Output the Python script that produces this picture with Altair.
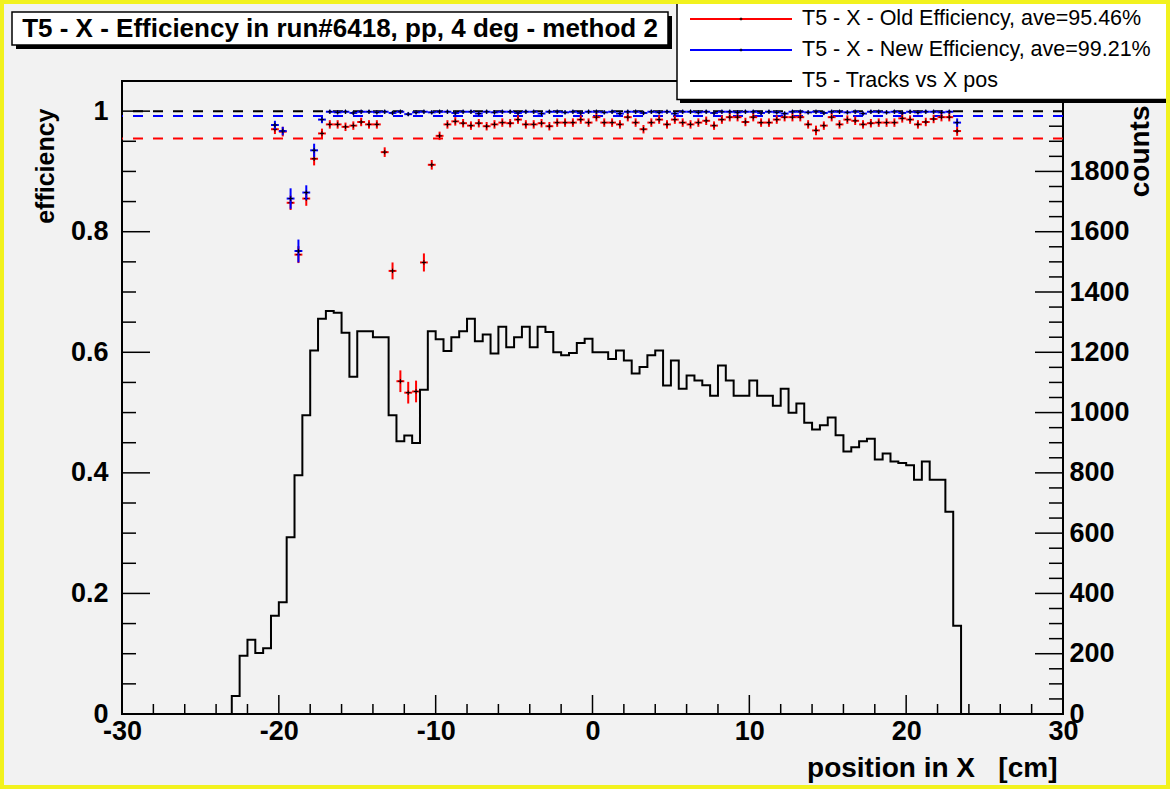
import altair as alt
import pandas as pd

# ---- canvas / frame geometry (pixels) ----
CANVAS_W, CANVAS_H = 1170, 789
PAD_L, PAD_T = 122, 81
W, H = 941, 633

BOLD_FONT = "Liberation Sans"
PLAIN_FONT = "Liberation Sans"
BG = "#f2f2f2"

# ---- texts ----
TITLE = "T5 - X - Efficiency in run#6418, pp, 4 deg - method 2"
LEGEND_LABELS = [
    "T5 - X - Old Efficiency, ave=95.46%",
    "T5 - X - New Efficiency, ave=99.21%",
    "T5 - Tracks vs X pos",
]
LEGEND_COLORS = ["#ff0000", "#0000ff", "#000000"]
X_TITLE = "position in X\u00a0\u00a0\u00a0[cm]"
Y_TITLE = "efficiency"
Y2_TITLE = "counts"

# ---- averages (dashed reference lines) ----
ave_values = [1.0, 0.9921, 0.9546]
ave_colors = ["#000000", "#0000ff", "#ff0000"]

# ---- tracks histogram: 0.5 cm bins, first filled bin starts at -23.0 ----
BIN_WIDTH = 0.5
X_MIN, X_MAX = -30.0, 30.0
HIST_FIRST_EDGE = -23.0
hist_counts = [
    60, 193, 246, 202, 218, 326, 371, 586, 792, 991,
    1206, 1311, 1337, 1331, 1265, 1119, 1270, 1270, 1250, 1250,
    991, 905, 924, 899, 1076, 1270, 1243, 1204, 1250, 1270,
    1311, 1237, 1259, 1196, 1285, 1217, 1250, 1285, 1217, 1285,
    1267, 1200, 1190, 1198, 1231, 1245,
    1200, 1200, 1178, 1206, 1173, 1130, 1151, 1190, 1206, 1090,
    1173, 1079, 1123, 1106, 1091, 1056, 1156, 1106, 1056, 1056,
    1106, 1056, 1056, 1023, 1079, 999, 1030, 966, 944, 958,
    984, 925, 871, 885, 905, 913, 844, 864, 838, 833,
    825, 777, 838, 777, 777, 671, 293,
]

# ---- efficiencies per bin, first bin centre at -20.25 ----
EFF_FIRST_CENTER = -20.25
old_eff = [
    0.970, 0.966, 0.848, 0.762, 0.855, 0.921, 0.963,
    0.978, 0.978, 0.974, 0.976, 0.982, 0.978, 0.978, 0.932, 0.735, 0.552,
    0.533, 0.535, 0.749, 0.911, 0.959,
    0.978, 0.983, 0.980, 0.976, 0.980, 0.975, 0.978, 0.981, 0.980, 0.986,
    0.978, 0.978, 0.980, 0.975, 0.981, 0.981, 0.981, 0.986, 0.981,
    0.990, 0.981, 0.981, 0.978, 0.990, 0.981, 0.970, 0.981, 0.986, 0.978,
    0.986, 0.981, 0.978, 0.981, 0.984, 0.976, 0.986, 0.990, 0.990, 0.982,
    0.990, 0.981, 0.981, 0.986, 0.990, 0.990, 0.990, 0.978, 0.968, 0.976,
    0.990, 0.978, 0.986, 0.984, 0.978, 0.980, 0.981, 0.981, 0.981, 0.988,
    0.986, 0.978, 0.982, 0.987, 0.990, 0.990, 0.967,
]
old_err = [
    0.008, 0.008, 0.012, 0.014, 0.012, 0.011, 0.008,
    0.007, 0.007, 0.007, 0.007, 0.007, 0.007, 0.007, 0.008, 0.014, 0.018,
    0.018, 0.018, 0.015, 0.008, 0.007,
    0.007, 0.007, 0.007, 0.007, 0.007, 0.007, 0.007, 0.007, 0.007, 0.007,
    0.007, 0.007, 0.007, 0.007, 0.007, 0.007, 0.007, 0.007, 0.007,
    0.007, 0.007, 0.007, 0.007, 0.007, 0.007, 0.007, 0.007, 0.007, 0.007,
    0.007, 0.007, 0.007, 0.007, 0.007, 0.007, 0.007, 0.007, 0.007, 0.007,
    0.007, 0.007, 0.007, 0.007, 0.007, 0.007, 0.007, 0.007, 0.008, 0.007,
    0.007, 0.007, 0.007, 0.007, 0.007, 0.007, 0.007, 0.007, 0.007, 0.007,
    0.007, 0.007, 0.007, 0.007, 0.007, 0.007, 0.008,
]
new_eff = [
    0.977, 0.967, 0.855, 0.768, 0.865, 0.935, 0.986,
    0.999, 0.998, 0.999, 0.997, 0.999, 0.999, 0.998, 0.999, 0.997, 0.999,
    0.995, 0.998, 0.999, 0.998, 0.999,
    0.999, 0.997, 0.999, 0.999, 0.996, 0.999, 0.998, 0.999, 0.999, 0.997,
    0.999, 0.999, 0.996, 0.999, 0.999, 0.998, 0.999, 0.997, 0.999,
    0.999, 0.998, 0.999, 0.996, 0.999, 0.999, 0.997, 0.999, 0.998, 0.999,
    0.996, 0.999, 0.999, 0.998, 0.999, 0.997, 0.999, 0.999, 0.998, 0.999,
    0.999, 0.997, 0.999, 0.998, 0.996, 0.999, 0.999, 0.998, 0.999, 0.997,
    0.999, 0.999, 0.998, 0.999, 0.996, 0.999, 0.999, 0.998, 0.999, 0.997,
    0.999, 0.998, 0.999, 0.999, 0.998, 0.999, 0.981,
]
new_err = [
    0.007, 0.007, 0.017, 0.019, 0.012, 0.011, 0.006,
    0.003, 0.003, 0.003, 0.003, 0.003, 0.003, 0.003, 0.003, 0.003, 0.003,
    0.003, 0.003, 0.003, 0.003, 0.003,
    0.003, 0.003, 0.003, 0.003, 0.003, 0.003, 0.003, 0.003, 0.003, 0.003,
    0.003, 0.003, 0.003, 0.003, 0.003, 0.003, 0.003, 0.003, 0.003,
    0.003, 0.003, 0.003, 0.003, 0.003, 0.003, 0.003, 0.003, 0.003, 0.003,
    0.003, 0.003, 0.003, 0.003, 0.003, 0.003, 0.003, 0.003, 0.003, 0.003,
    0.003, 0.003, 0.003, 0.003, 0.003, 0.003, 0.003, 0.003, 0.003, 0.003,
    0.003, 0.003, 0.003, 0.003, 0.003, 0.003, 0.003, 0.003, 0.003, 0.003,
    0.003, 0.003, 0.003, 0.003, 0.003, 0.003, 0.007,
]

# ---- axis tick values ----
x_major = [-30, -20, -10, 0, 10, 20, 30]
x_minor = [v for v in range(-28, 30, 2) if v % 10 != 0]
y_major = [0, 0.2, 0.4, 0.6, 0.8, 1.0]
y_minor = [round(0.05 * i, 2) for i in range(1, 22) if i % 4 != 0]
y2_major = [0, 200, 400, 600, 800, 1000, 1200, 1400, 1600, 1800]
y2_minor = [50 * i for i in range(1, 40) if i % 4 != 0]

# ---- tables ----
n_lead = int(round((HIST_FIRST_EDGE - X_MIN) / BIN_WIDTH))
n_bins = int(round((X_MAX - X_MIN) / BIN_WIDTH))
full_counts = [0] * n_lead + hist_counts
full_counts += [0] * (n_bins - len(full_counts))
hist_df = pd.DataFrame({
    "x": [X_MIN + i * BIN_WIDTH for i in range(n_bins)] + [X_MAX],
    "count": full_counts + [0],
})


def eff_frame(eff, err):
    centers = [EFF_FIRST_CENTER + i * BIN_WIDTH for i in range(len(eff))]
    return pd.DataFrame({
        "x": centers,
        "lo": [c - BIN_WIDTH / 2 for c in centers],
        "hi": [c + BIN_WIDTH / 2 for c in centers],
        "eff": eff,
        "elo": [e - d for e, d in zip(eff, err)],
        "ehi": [e + d for e, d in zip(eff, err)],
    })


old_df = eff_frame(old_eff, old_err)
new_df = eff_frame(new_eff, new_err)
ave_df = pd.DataFrame({"eff": ave_values, "c": ave_colors})

# ---- scales and axes ----
xscale = alt.Scale(domain=[X_MIN, X_MAX], nice=False, zero=False)
yscale = alt.Scale(domain=[0, 1.05], nice=False, zero=False)
y2scale = alt.Scale(domain=[0, 2100], nice=False, zero=False)

label_style = dict(
    labelFont=BOLD_FONT, labelFontSize=27, labelFontWeight="bold",
    labelColor="black", labelOverlap=False, labelBound=False,
    ticks=False, domain=False, grid=False,
    titleFont=BOLD_FONT, titleFontWeight="bold", titleColor="black",
    labelExpr="toString(datum.value)",
)
xaxis = alt.Axis(
    orient="bottom", values=x_major, labelPadding=4,
    labelFlush=False, title=X_TITLE, titleX=935, titleY=54, titleFontSize=28,
    titleAlign="right", titleBaseline="middle", titleAngle=0, **label_style,
)
yaxis = alt.Axis(
    orient="left", values=y_major, labelPadding=14,
    title=Y_TITLE, titleAngle=270, titleX=-77, titleY=27, titleFontSize=25,
    titleAlign="right", titleBaseline="middle", **label_style,
)
y2axis = alt.Axis(
    orient="right", values=y2_major, labelPadding=6,
    title=Y2_TITLE, titleAngle=270, titleX=77, titleY=24, titleFontSize=28,
    titleAlign="right", titleBaseline="middle", **label_style,
)


def X(field):
    return alt.X(field, type="quantitative", scale=xscale, axis=xaxis)


def Y(field):
    return alt.Y(field, type="quantitative", scale=yscale, axis=yaxis)


def Y2(field):
    return alt.Y(field, type="quantitative", scale=y2scale, axis=y2axis)


# ---- efficiency layer (left scale) ----
ave_lines = alt.Chart(ave_df).mark_rule(strokeWidth=2, strokeDash=[10, 10]).encode(
    y=Y("eff"), color=alt.Color("c:N", scale=None)
)

CROSS = "M-1,0L1,0M0,-1L0,1"


def err_bars(df, color):
    base = alt.Chart(df)
    horiz = base.mark_rule(color=color, strokeWidth=2).encode(
        x=X("lo"), x2="hi", y=Y("eff")
    )
    vert = base.mark_rule(color=color, strokeWidth=2).encode(
        x=X("x"), y=Y("elo"), y2="ehi"
    )
    mark = base.mark_point(shape=CROSS, size=20, color="black", strokeWidth=1,
                           filled=False, opacity=1).encode(x=X("x"), y=Y("eff"))
    return [horiz, vert, mark]


left_ticks = alt.Chart(pd.DataFrame({"v": y_major})).mark_rule(
    color="black", strokeWidth=1.5
).encode(y=Y("v"), x=alt.value(0), x2=alt.value(28))
left_minor = alt.Chart(pd.DataFrame({"v": y_minor})).mark_rule(
    color="black", strokeWidth=1.5
).encode(y=Y("v"), x=alt.value(0), x2=alt.value(14))
bottom_ticks = alt.Chart(pd.DataFrame({"v": x_major})).mark_rule(
    color="black", strokeWidth=1.5
).encode(x=X("v"), y=alt.value(H), y2=alt.value(H - 19))
bottom_minor = alt.Chart(pd.DataFrame({"v": x_minor})).mark_rule(
    color="black", strokeWidth=1.5
).encode(x=X("v"), y=alt.value(H), y2=alt.value(H - 10))

eff_layer = alt.layer(
    left_ticks, left_minor, bottom_ticks, bottom_minor, ave_lines,
    *err_bars(old_df, "#ff0000"), *err_bars(new_df, "#0000ff"),
)

# ---- tracks layer (right scale) ----
hist_line = alt.Chart(hist_df).mark_line(
    interpolate="step-after", color="black", strokeWidth=2
).encode(x=X("x"), y=Y2("count"))
right_ticks = alt.Chart(pd.DataFrame({"v": y2_major})).mark_rule(
    color="black", strokeWidth=1.5
).encode(y=Y2("v"), x=alt.value(W - 28), x2=alt.value(W))
right_minor = alt.Chart(pd.DataFrame({"v": y2_minor})).mark_rule(
    color="black", strokeWidth=1.5
).encode(y=Y2("v"), x=alt.value(W - 14), x2=alt.value(W))

cnt_layer = alt.layer(hist_line, right_ticks, right_minor)

# ---- title box, legend box and canvas border (pixel positions relative to frame) ----
one = pd.DataFrame({"k": [0]})


def px(x):
    return alt.value(x - PAD_L)


def py(y):
    return alt.value(y - PAD_T)


def box(x0, y0, x1, y1, fill, stroke=None, sw=0):
    kw = dict(fill=fill)
    if stroke:
        kw.update(stroke=stroke, strokeWidth=sw)
    return alt.Chart(one).mark_rect(**kw).encode(x=px(x0), x2=px(x1), y=py(y0), y2=py(y1))


decor = [
    box(16, 16, 672, 49, "black"),
    box(12, 12, 668, 45, "white", "black", 1.5),
    alt.Chart(pd.DataFrame({"t": [TITLE]})).mark_text(
        font=BOLD_FONT, fontSize=26, fontWeight="bold", color="black",
        align="center", baseline="middle"
    ).encode(x=px(340), y=py(29), text="t:N"),
    box(680, 2, 1175, 103, "black"),
    box(677, -2, 1175, 99.5, "white", "black", 1.5),
]
for i, (lab, col) in enumerate(zip(LEGEND_LABELS, LEGEND_COLORS)):
    ly = 19 + 31 * i
    decor.append(
        alt.Chart(one).mark_rule(color=col, strokeWidth=2).encode(
            x=px(690), x2=px(792), y=py(ly)
        )
    )
    if i < 2:
        decor.append(
            alt.Chart(one).mark_point(shape=CROSS, size=8, color="black",
                                      strokeWidth=1, opacity=1).encode(x=px(741), y=py(ly))
        )
    decor.append(
        alt.Chart(pd.DataFrame({"t": [lab]})).mark_text(
            font=PLAIN_FONT, fontSize=21.5, color="black", align="left", baseline="middle"
        ).encode(x=px(802), y=py(ly), text="t:N")
    )
decor.append(
    alt.Chart(one).mark_rect(fillOpacity=0, stroke="#f2f21e", strokeWidth=4).encode(
        x=px(2), x2=px(CANVAS_W - 2), y=py(2), y2=py(CANVAS_H - 2)
    )
)

chart = alt.layer(eff_layer, cnt_layer, *decor).resolve_scale(
    y="independent"
).properties(
    width=W,
    height=H,
    padding={"left": PAD_L, "top": PAD_T,
             "right": CANVAS_W - PAD_L - W, "bottom": CANVAS_H - PAD_T - H},
    autosize=alt.AutoSizeParams(type="none"),
    background=BG,
).configure_view(stroke="black", strokeWidth=2, fill=BG)

chart.save("out.html", embed_options={"renderer": "svg", "actions": False})
